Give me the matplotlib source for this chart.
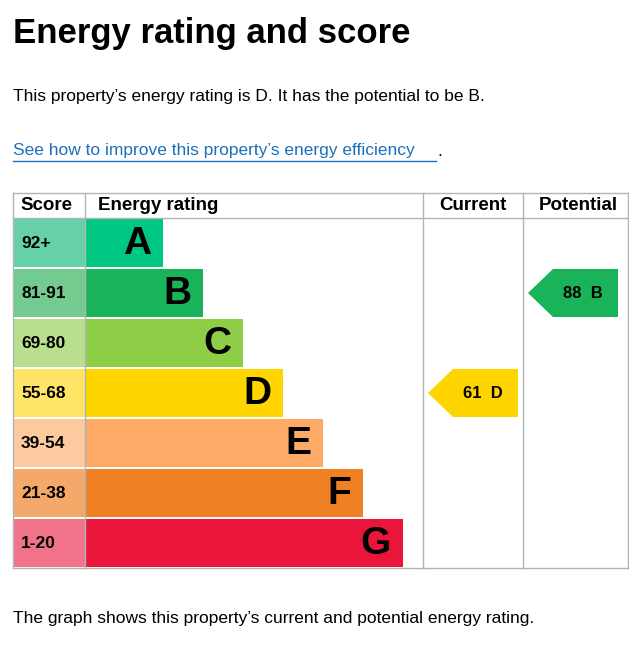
import matplotlib
matplotlib.use("Agg")
import matplotlib.pyplot as plt
from matplotlib.patches import Rectangle, Polygon
import matplotlib.colors as mc

letters = ["A", "B", "C", "D", "E", "F", "G"]
ranges = ["92+", "81-91", "69-80", "55-68", "39-54", "21-38", "1-20"]
lows = [92, 81, 69, 55, 39, 21, 1]
colors = ["#00c781", "#19b459", "#8dce46", "#ffd500", "#fcaa65", "#ef8023", "#e9153b"]
score_colors = ["#66d1a8", "#73cb8f", "#b8df8e", "#ffe566", "#fdcaa0", "#f4a96a", "#f07389"]
current = 61
potential = 88

def band(v):
    for i, lo in enumerate(lows):
        if v >= lo:
            return i
    return len(lows) - 1

fig = plt.figure(figsize=(6.29, 6.51), dpi=100)
ax = fig.add_axes([0, 0, 1, 1])
ax.set_xlim(0, 629); ax.set_ylim(651, 0); ax.axis("off")
F = "Liberation Sans"

ax.text(13, 34, "Energy rating and score", fontsize=25, fontweight="bold", va="center", family=F)
ax.text(13, 97, "This property\u2019s energy rating is D. It has the potential to be B.", fontsize=12.5, va="center", family=F)
t = ax.text(13, 151, "See how to improve this property\u2019s energy efficiency", fontsize=12.5, va="center", color="#1d70b8", family=F)
ax.plot([13, 436], [161, 161], color="#1d70b8", lw=1)
ax.text(437, 151, ".", fontsize=12.5, va="center", family=F)
ax.text(13, 618, "The graph shows this property\u2019s current and potential energy rating.", fontsize=12.5, va="center", family=F)

top, head, rowh = 193, 218, 50
cols = [13, 85, 423, 523, 628]
bottom = head + rowh * len(letters)
lc = "#b1b4b6"
ax.plot([cols[0], cols[-1]], [top, top], color=lc, lw=1)
ax.plot([cols[0], cols[-1]], [head, head], color=lc, lw=1)
ax.plot([cols[0], cols[-1]], [bottom, bottom], color=lc, lw=1)
for x in cols:
    ax.plot([x, x], [top, bottom], color=lc, lw=1)
hy = (top + head) / 2
ax.text(20, hy, "Score", fontsize=13.5, fontweight="bold", va="center", family=F)
ax.text(98, hy, "Energy rating", fontsize=13.5, fontweight="bold", va="center", family=F)
ax.text(473, hy, "Current", fontsize=13.5, fontweight="bold", va="center", ha="center", family=F)
ax.text(578, hy, "Potential", fontsize=13.5, fontweight="bold", va="center", ha="center", family=F)

for i, (L, r, c, sc) in enumerate(zip(letters, ranges, colors, score_colors)):
    y0 = head + i * rowh + 1
    h = rowh - 2
    ax.add_patch(Rectangle((13, y0), 72, h, color=sc, lw=0))
    right = 163 + 40 * i
    ax.add_patch(Rectangle((85, y0), right - 85, h, color=c, lw=0))
    ax.text(21, y0 + h / 2, r, fontsize=12.5, fontweight="bold", va="center", family=F)
    ax.text(right - 12, y0 + h / 2 + 1, L, fontsize=28, fontweight="bold", va="center", ha="right", family=F)

def arrow(x0, v):
    i = band(v)
    y0 = head + i * rowh + 1
    h = rowh - 2
    pts = [(x0, y0 + h / 2), (x0 + 25, y0), (x0 + 90, y0), (x0 + 90, y0 + h), (x0 + 25, y0 + h)]
    ax.add_patch(Polygon(pts, closed=True, color=colors[i], lw=0))
    ax.text(x0 + 55, y0 + h / 2, f"{v}  {letters[i]}", fontsize=12, fontweight="bold", va="center", ha="center", family=F)

arrow(428, current)
arrow(528, potential)
fig.savefig("out.png", dpi=100)
